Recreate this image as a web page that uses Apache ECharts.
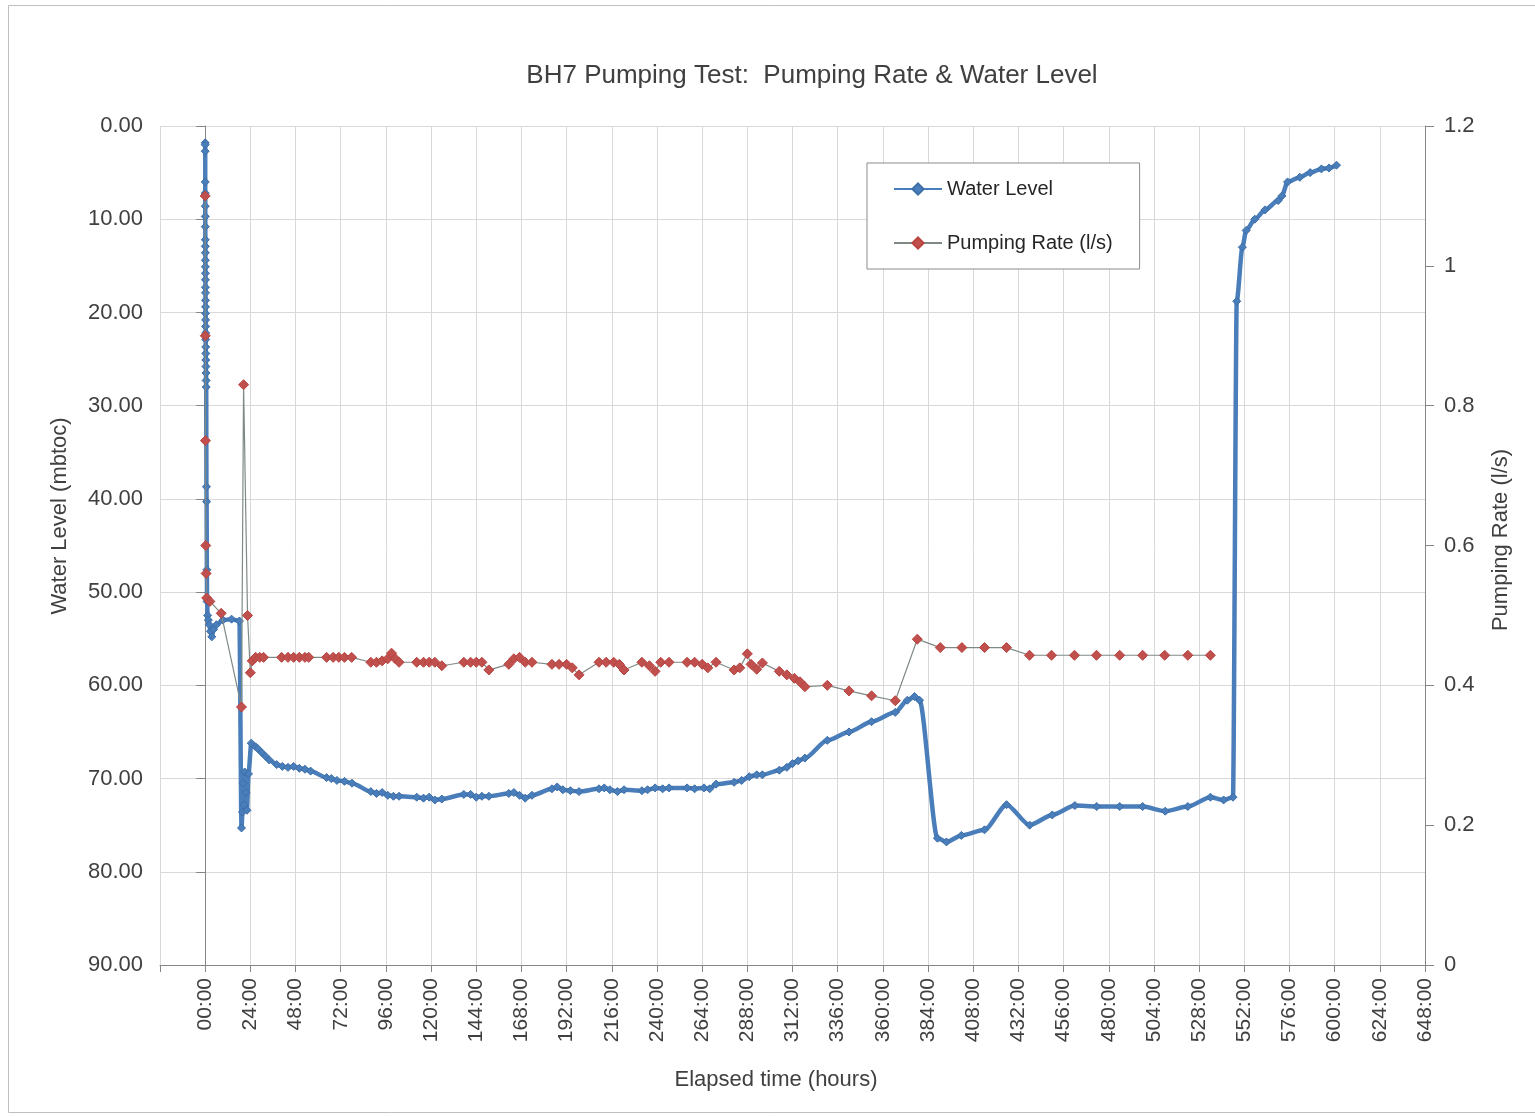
<!DOCTYPE html>
<html>
<head>
<meta charset="utf-8">
<title>BH7 Pumping Test</title>
<script src="https://cdn.jsdelivr.net/npm/echarts@6/dist/echarts.min.js"></script>
<style>
  html, body { margin: 0; padding: 0; background: #ffffff; }
  #chart { width: 1535px; height: 1116px; }
</style>
</head>
<body>
<div id="chart"></div>
<script>
// Water level readings: elapsed hours and depth below top of casing (m)
const wlHours = [
  0.00, 0.01, 0.02, 0.03, 0.04, 0.05, 0.06, 0.07, 0.08, 0.09,
  0.10, 0.11, 0.12, 0.13, 0.14, 0.15, 0.17, 0.18, 0.20, 0.22,
  0.23, 0.25, 0.27, 0.28, 0.30, 0.33, 0.35, 0.40, 0.45, 0.50,
  0.55, 0.67, 0.75, 0.90, 1.0, 1.3, 1.7, 2.2, 2.8, 3.5,
  4.5, 6.0, 9.5, 14.0, 18.2, 19.3, 19.8, 20.2, 20.6, 21.0,
  21.6, 22.2, 23.0, 24.5, 26.8, 28.0, 30.0, 32.0, 34.0, 38.0,
  41.0, 44.0, 47.0, 50.0, 53.0, 56.0, 64.5, 67.0, 70.0, 74.0,
  78.0, 88.0, 91.0, 94.0, 97.0, 100.0, 103.0, 112.4, 116.0, 119.0,
  122.0, 125.7, 137.4, 141.0, 144.0, 147.0, 150.7, 161.3, 164.0, 167.0,
  170.0, 173.6, 184.2, 187.0, 190.0, 194.0, 198.6, 209.2, 212.0, 215.0,
  219.0, 222.5, 232.0, 235.0, 239.0, 243.0, 246.4, 256.0, 260.0, 265.0,
  268.0, 271.4, 281.0, 285.0, 289.0, 293.0, 296.0, 305.0, 309.0, 312.0,
  315.0, 318.6, 330.5, 342.0, 354.0, 366.6, 373.0, 376.8, 379.5, 389.0,
  393.8, 401.7, 414.0, 425.7, 438.0, 450.0, 462.0, 473.6, 485.8, 498.0,
  510.0, 522.0, 534.0, 541.0, 546.0, 548.0, 551.0, 553.0, 557.6, 563.0,
  570.0, 572.0, 575.0, 581.5, 587.0, 593.0, 597.0, 601.0
];
const wlLevel = [
  1.8, 2.0, 2.7, 6.0, 7.2, 8.6, 9.7, 10.8, 12.2, 12.9,
  13.6, 14.4, 15.1, 15.8, 16.5, 17.3, 17.9, 18.7, 19.4, 20.1,
  20.8, 21.5, 22.2, 22.9, 23.7, 24.4, 25.1, 25.8, 26.5, 27.3,
  28.0, 38.7, 40.3, 47.6, 51.0, 52.5, 53.0, 53.5, 54.2, 54.8,
  54.0, 53.5, 53.0, 52.9, 53.1, 75.3, 73.6, 70.5, 72.8, 69.3,
  71.5, 73.4, 69.5, 66.2, 66.6, 66.8, 67.2, 67.6, 68.0, 68.5,
  68.7, 68.8, 68.7, 68.9, 69.0, 69.2, 69.9, 70.0, 70.2, 70.3,
  70.5, 71.4, 71.6, 71.5, 71.8, 71.9, 71.9, 72.0, 72.1, 72.0,
  72.3, 72.2, 71.7, 71.7, 72.0, 71.9, 71.9, 71.6, 71.5, 71.8,
  72.1, 71.8, 71.1, 70.9, 71.2, 71.3, 71.4, 71.1, 71.0, 71.2,
  71.4, 71.2, 71.3, 71.2, 71.0, 71.1, 71.0, 71.0, 71.1, 71.0,
  71.1, 70.6, 70.4, 70.2, 69.8, 69.6, 69.6, 69.1, 68.8, 68.4,
  68.1, 67.8, 65.9, 65.0, 63.9, 62.9, 61.6, 61.2, 61.6, 76.4,
  76.8, 76.1, 75.5, 72.8, 75.0, 73.9, 72.9, 73.0, 73.0, 73.0,
  73.5, 73.0, 72.0, 72.3, 72.0, 18.8, 13.0, 11.2, 10.0, 9.0,
  8.0, 7.5, 6.0, 5.5, 5.0, 4.6, 4.5, 4.2
];

// Pumping rate readings: elapsed hours and discharge (l/s)
const prHours = [
  0.00, 0.05, 0.15, 0.30, 0.50, 0.80, 2.5, 8.5, 19.3, 20.4,
  22.5, 24.0, 25.0, 26.8, 29.0, 31.0, 40.6, 44.0, 47.0, 50.0,
  53.0, 55.0, 64.5, 68.0, 71.0, 74.0, 77.8, 88.0, 91.0, 94.0,
  97.0, 99.0, 101.0, 103.0, 112.4, 116.0, 119.0, 122.0, 125.7, 137.4,
  141.0, 144.0, 147.0, 150.7, 161.3, 164.0, 167.0, 170.0, 173.6, 184.2,
  188.0, 192.0, 195.0, 198.6, 209.2, 213.0, 217.0, 220.0, 222.5, 232.0,
  236.0, 239.0, 242.0, 246.4, 256.0, 260.0, 264.0, 267.0, 271.4, 281.0,
  284.0, 288.0, 290.0, 293.0, 296.0, 305.0, 309.0, 313.0, 316.0, 318.6,
  330.5, 342.0, 354.0, 366.6, 378.3, 390.5, 402.0, 414.0, 425.7, 437.9,
  449.6, 461.8, 473.5, 485.8, 498.0, 509.7, 522.0, 534.0
];
const prRate = [
  1.10, 0.90, 0.75, 0.60, 0.56, 0.525, 0.52, 0.503, 0.369, 0.83,
  0.50, 0.418, 0.435, 0.44, 0.44, 0.44, 0.44, 0.44, 0.44, 0.44,
  0.44, 0.44, 0.44, 0.44, 0.44, 0.44, 0.44, 0.433, 0.433, 0.435,
  0.438, 0.446, 0.438, 0.433, 0.433, 0.433, 0.433, 0.433, 0.428, 0.433,
  0.433, 0.433, 0.433, 0.422, 0.43, 0.438, 0.44, 0.433, 0.433, 0.43,
  0.43, 0.43, 0.425, 0.415, 0.433, 0.433, 0.433, 0.43, 0.422, 0.433,
  0.428, 0.42, 0.433, 0.433, 0.433, 0.433, 0.43, 0.425, 0.433, 0.422,
  0.425, 0.445, 0.43, 0.423, 0.432, 0.42, 0.415, 0.41, 0.405, 0.398,
  0.40, 0.392, 0.385, 0.378, 0.466, 0.454, 0.454, 0.454, 0.454, 0.443,
  0.443, 0.443, 0.443, 0.443, 0.443, 0.443, 0.443, 0.443
];

// Axis ranges and tick steps
const timeRange = [-24, 648];
const timeStep = 24;
const levelRange = [0, 90];
const levelStep = 10;
const rateRange = [0, 1.2];
const rateStep = 0.2;

const zip = (xs, ys) => xs.map((x, i) => [x, ys[i]]);

const FONT = "'Liberation Sans', Arial, sans-serif";
const TEXT = '#404040';
const AXIS = '#868686';
const GRID = '#d9d9d9';

const chart = echarts.init(document.getElementById('chart'), null, { renderer: 'canvas' });

// Free-standing text: title and the three axis captions
const caption = (text, x, y, size, rotation) => ({
  type: 'text',
  x: x, y: y,
  rotation: rotation || 0,
  style: {
    text: text,
    font: size + 'px ' + FONT,
    fill: TEXT,
    align: 'center',
    verticalAlign: 'middle'
  },
  silent: true
});

chart.setOption({
  animation: false,
  backgroundColor: '#ffffff',
  textStyle: { fontFamily: FONT },
  graphic: [
    {
      type: 'rect',
      shape: { x: 8.5, y: 5.5, width: 1540, height: 1107 },
      style: { fill: 'none', stroke: '#bfbfbf', lineWidth: 1 },
      silent: true
    },
    caption('BH7 Pumping Test:  Pumping Rate & Water Level', 812, 76, 26),
    caption('Water Level (mbtoc)', 60, 516, 22, Math.PI / 2),
    caption('Pumping Rate (l/s)', 1501, 540, 22, Math.PI / 2),
    caption('Elapsed time (hours)', 776, 1080, 22)
  ],
  legend: {
    orient: 'vertical',
    left: 867,
    top: 163,
    padding: [16, 27, 16, 26],
    itemGap: 34,
    itemWidth: 48,
    itemHeight: 14,
    backgroundColor: '#ffffff',
    borderColor: '#8c8c8c',
    borderWidth: 1,
    borderRadius: 0,
    textStyle: { fontSize: 20, color: '#262626', fontFamily: FONT },
    data: ['Water Level', 'Pumping Rate (l/s)']
  },
  grid: { left: 160, right: 110, top: 126, bottom: 151, containLabel: false },
  xAxis: {
    type: 'value',
    min: timeRange[0],
    max: timeRange[1],
    interval: timeStep,
    axisLine: { show: true, onZero: false, lineStyle: { color: AXIS, width: 1 } },
    axisTick: { show: true, length: 7, lineStyle: { color: AXIS } },
    axisLabel: {
      rotate: 90,
      margin: 13,
      fontSize: 21,
      color: TEXT,
      fontFamily: FONT,
      formatter: v => (v < 0 ? '' : (v < 10 ? '0' + v : String(v)) + ':00')
    },
    splitLine: { show: true, lineStyle: { color: GRID, width: 1 } }
  },
  yAxis: [
    {
      type: 'value',
      inverse: true,
      min: levelRange[0],
      max: levelRange[1],
      interval: levelStep,
      position: 'left',
      axisLine: { show: true, lineStyle: { color: AXIS, width: 1 } },
      axisTick: { show: true, length: 9, lineStyle: { color: AXIS } },
      axisLabel: {
        margin: 17,
        fontSize: 22,
        color: TEXT,
        fontFamily: FONT,
        formatter: v => v.toFixed(2)
      },
      splitLine: { show: true, lineStyle: { color: GRID, width: 1 } }
    },
    {
      type: 'value',
      min: rateRange[0],
      max: rateRange[1],
      interval: rateStep,
      position: 'right',
      axisLine: { show: true, lineStyle: { color: AXIS, width: 1 } },
      axisTick: { show: true, length: 9, lineStyle: { color: AXIS } },
      axisLabel: {
        margin: 19,
        fontSize: 22,
        color: TEXT,
        fontFamily: FONT,
        formatter: v => String(Math.round(v * 10) / 10)
      },
      splitLine: { show: false }
    }
  ],
  series: [
    {
      name: 'Water Level',
      type: 'line',
      yAxisIndex: 0,
      data: zip(wlHours, wlLevel),
      smooth: 0.25,
      smoothMonotone: 'x',
      symbol: 'diamond',
      symbolSize: 8,
      showAllSymbol: true,
      lineStyle: { color: '#4a7ebb', width: 4.5 },
      itemStyle: { color: '#4a7ebb', borderColor: '#3c6ea8', borderWidth: 1 },
      z: 2
    },
    {
      name: 'Pumping Rate (l/s)',
      type: 'line',
      yAxisIndex: 1,
      data: zip(prHours, prRate),
      symbol: 'diamond',
      symbolSize: 10,
      showAllSymbol: true,
      lineStyle: { color: '#7f8a85', width: 1.2 },
      itemStyle: { color: '#c0504d', borderColor: '#b8433f', borderWidth: 1 },
      z: 3
    }
  ]
});
</script>
</body>
</html>
